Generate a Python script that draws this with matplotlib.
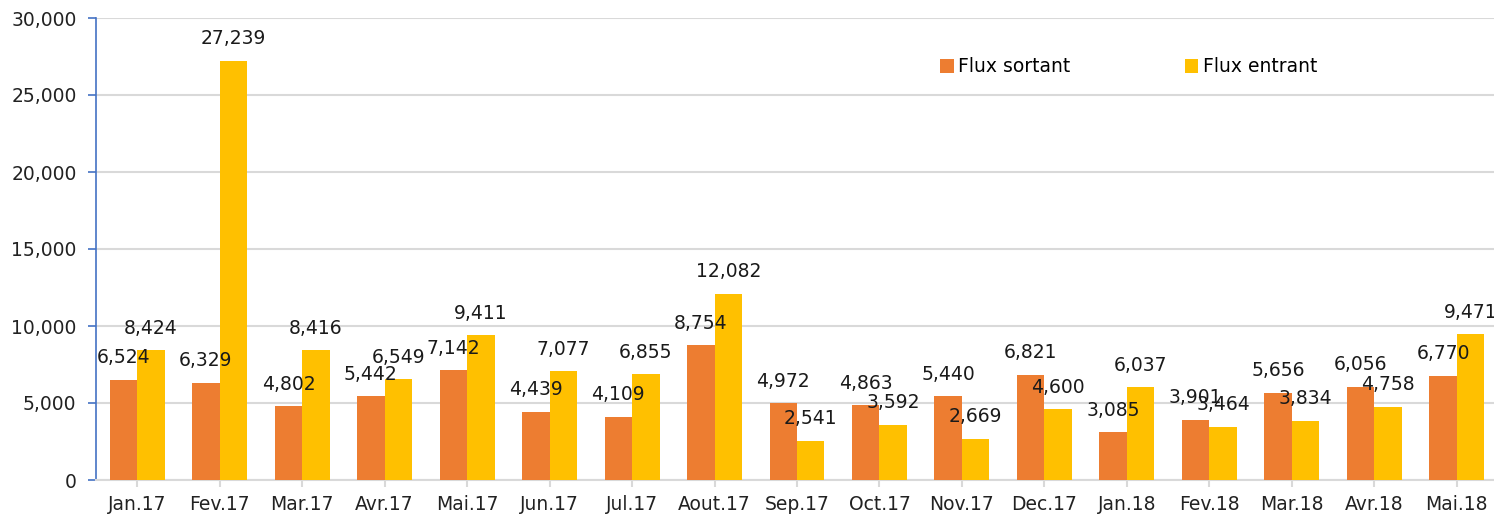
import matplotlib
matplotlib.use("Agg")
import matplotlib.pyplot as plt
import numpy as np

# ---------- data ----------
months = ["Jan.17", "Fev.17", "Mar.17", "Avr.17", "Mai.17", "Jun.17", "Jul.17",
          "Aout.17", "Sep.17", "Oct.17", "Nov.17", "Dec.17", "Jan.18", "Fev.18",
          "Mar.18", "Avr.18", "Mai.18"]
flux_sortant = [6524, 6329, 4802, 5442, 7142, 4439, 4109, 8754, 4972, 4863,
                5440, 6821, 3085, 3901, 5656, 6056, 6770]
flux_entrant = [8424, 27239, 8416, 6549, 9411, 7077, 6855, 12082, 2541, 3592,
                2669, 4600, 6037, 3464, 3834, 4758, 9471]
y_ticks = [0, 5000, 10000, 15000, 20000, 25000, 30000]

ORANGE = "#ED7D31"
GOLD = "#FFC000"
GRID = "#D9D9D9"
AXBLUE = "#4472C4"

plt.rcParams["font.family"] = ["DejaVu Sans"]
fs = 13.5

fig = plt.figure(figsize=(14.94, 5.18), dpi=100)
W, H = 1494, 518
ax = fig.add_axes([96 / W, 38 / H, (1498 - 96) / W, (480 - 18) / H])

x = np.arange(len(months))
bw = 1 / 3
b1 = ax.bar(x - bw / 2, flux_sortant, bw, color=ORANGE, label="Flux sortant", zorder=3)
b2 = ax.bar(x + bw / 2, flux_entrant, bw, color=GOLD, label="Flux entrant", zorder=3)

for bars, vals in ((b1, flux_sortant), (b2, flux_entrant)):
    for r, v in zip(bars, vals):
        ax.annotate(f"{v:,}", (r.get_x() + r.get_width() / 2, v),
                    xytext=(0, 22), textcoords="offset pixels",
                    ha="center", va="center", fontsize=fs, color="#1a1a1a", zorder=5)

ax.set_xlim(-0.5, len(months) - 0.5)
ax.set_ylim(0, 30000)
ax.set_yticks(y_ticks)
ax.set_yticklabels([f"{t:,}" for t in y_ticks], fontsize=fs, color="#222222")
ax.set_xticks(x)
ax.set_xticklabels(months, fontsize=fs, color="#222222")

ax.yaxis.grid(True, color=GRID, lw=1.5, zorder=0)
ax.set_axisbelow(True)
for s in ("top", "right"):
    ax.spines[s].set_visible(False)
ax.spines["left"].set_color(AXBLUE)
ax.spines["left"].set_linewidth(1.2)
ax.spines["bottom"].set_color(GRID)
ax.spines["bottom"].set_linewidth(1.5)
ax.tick_params(axis="y", length=6, color=AXBLUE, width=1.2, pad=8)
ax.tick_params(axis="x", length=5, color=GRID, width=1.5, pad=6)

ax.legend(ncol=2, loc="center left", bbox_to_anchor=(931 / W, 1 - 67 / H),
          bbox_transform=fig.transFigure, frameon=False, fontsize=fs,
          handlelength=0.7, handleheight=0.7, handletextpad=0.25,
          columnspacing=6.1, borderpad=0)

fig.savefig("out.png", dpi=100)
